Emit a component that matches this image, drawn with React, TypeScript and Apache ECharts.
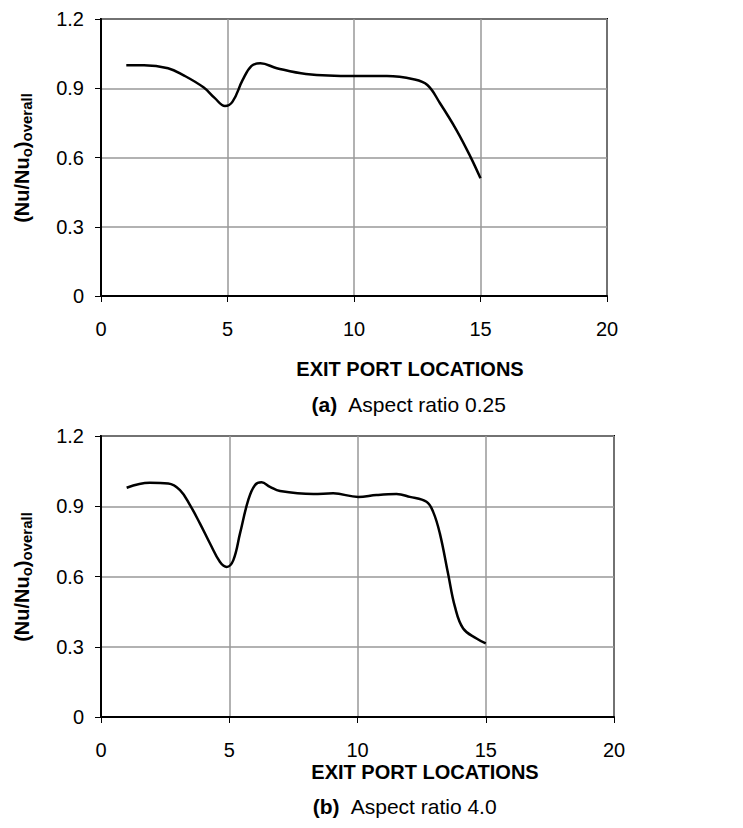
import React, { useEffect, useRef } from "react";
import * as echarts from "echarts";

// (a) Aspect ratio 0.25
const portsA = [1, 1.7, 2.65, 3.25, 4.05, 4.5, 4.9, 5.2, 5.6, 5.95, 6.3, 6.95, 8.1, 10, 11.3, 12.35, 12.9, 13.4, 14.05, 14.6, 15];
const nuA = [1.0, 1.0, 0.987, 0.957, 0.904, 0.857, 0.823, 0.842, 0.936, 0.997, 1.008, 0.987, 0.962, 0.953, 0.953, 0.939, 0.914, 0.835, 0.719, 0.604, 0.51];

// (b) Aspect ratio 4.0
const portsB = [1, 1.9, 2.62, 3.08, 3.47, 3.86, 4.25, 4.64, 4.9, 5.16, 5.42, 5.74, 6.0, 6.26, 6.59, 6.98, 8.28, 9.05, 10.03, 10.74, 11.52, 12.04, 12.69, 12.95, 13.21, 13.53, 13.8, 14.12, 14.64, 15];
const nuB = [0.979, 1.0, 0.997, 0.969, 0.905, 0.826, 0.741, 0.662, 0.641, 0.67, 0.784, 0.926, 0.99, 1.002, 0.983, 0.965, 0.952, 0.955, 0.94, 0.948, 0.952, 0.94, 0.919, 0.876, 0.784, 0.613, 0.47, 0.378, 0.335, 0.314];

const xTitle = "EXIT PORT LOCATIONS";
const captionA = ["(a)", "Aspect ratio 0.25"];
const captionB = ["(b)", "Aspect ratio 4.0"];
const yTitleParts = ["(Nu/Nu", "o", ")", "overall"];

const FONT = "Liberation Sans, Arial, sans-serif";

function xAxisCfg(gridIndex: number) {
  return {
    type: "value" as const,
    gridIndex,
    min: 0,
    max: 20,
    interval: 5,
    axisLine: { show: true, onZero: false, lineStyle: { color: "#000", width: 2 } },
    axisTick: { show: true, length: 6, lineStyle: { color: "#000", width: 1 } },
    splitLine: { show: true, lineStyle: { color: "#999", width: 1.5 } },
    axisLabel: { fontSize: 20, color: "#000", fontFamily: FONT, margin: 23 },
  };
}

function yAxisCfg(gridIndex: number) {
  return {
    type: "value" as const,
    gridIndex,
    min: 0,
    max: 1.2,
    interval: 0.3,
    axisLine: { show: true, onZero: false, lineStyle: { color: "#000", width: 2 } },
    axisTick: { show: true, length: 6, lineStyle: { color: "#000", width: 1 } },
    splitLine: { show: true, lineStyle: { color: "#999", width: 1.5 } },
    axisLabel: {
      fontSize: 20,
      color: "#000",
      fontFamily: FONT,
      margin: 17,
      formatter: (v: number) => String(Math.round(v * 10) / 10),
    },
  };
}

function yTitle(cx: number, cy: number) {
  return {
    type: "text",
    x: cx,
    y: cy,
    rotation: Math.PI / 2,
    style: {
      text: `{m|${yTitleParts[0]}}{s|${yTitleParts[1]}}{m|${yTitleParts[2]}}{s|${yTitleParts[3]}}`,
      align: "center",
      verticalAlign: "middle",
      rich: {
        m: { fontSize: 20, fontWeight: "bold", fontFamily: FONT, fill: "#000", lineHeight: 24 },
        s: { fontSize: 15, fontWeight: "bold", fontFamily: FONT, fill: "#000", lineHeight: 16, verticalAlign: "bottom" },
      },
    },
  };
}

function titleText(cx: number, cy: number) {
  return {
    type: "text",
    x: cx,
    y: cy,
    style: {
      text: xTitle,
      font: `bold 20px ${FONT}`,
      fill: "#000",
      align: "center",
      verticalAlign: "middle",
    },
  };
}

function caption(cx: number, cy: number, parts: string[]) {
  return {
    type: "text",
    x: cx,
    y: cy,
    style: {
      text: `{b|${parts[0]}}{r|  ${parts[1]}}`,
      align: "center",
      verticalAlign: "middle",
      rich: {
        b: { fontSize: 21, fontWeight: "bold", fontFamily: FONT, fill: "#000" },
        r: { fontSize: 21, fontFamily: FONT, fill: "#000" },
      },
    },
  };
}

export default function App() {
  const ref = useRef<HTMLDivElement>(null);
  useEffect(() => {
    if (!ref.current) return;
    const chart = echarts.init(ref.current, undefined, { renderer: "svg" });
    chart.setOption({
      animation: false,
      backgroundColor: "#fff",
      grid: [
        { left: 101, top: 19, width: 506, height: 277, show: true, borderColor: "#000", borderWidth: 2, backgroundColor: "transparent" },
        { left: 101, top: 436, width: 513, height: 281, show: true, borderColor: "#000", borderWidth: 2, backgroundColor: "transparent" },
      ],
      xAxis: [xAxisCfg(0), xAxisCfg(1)],
      yAxis: [yAxisCfg(0), yAxisCfg(1)],
      series: [
        {
          type: "line",
          xAxisIndex: 0,
          yAxisIndex: 0,
          data: portsA.map((x, i) => [x, nuA[i]]),
          smooth: 0.4,
          symbol: "none",
          lineStyle: { color: "#000", width: 2.5 },
        },
        {
          type: "line",
          xAxisIndex: 1,
          yAxisIndex: 1,
          data: portsB.map((x, i) => [x, nuB[i]]),
          smooth: 0.4,
          symbol: "none",
          lineStyle: { color: "#000", width: 2.5 },
        },
      ],
      graphic: [
        yTitle(22, 158),
        yTitle(22, 577),
        titleText(410, 369),
        titleText(425, 772),
        caption(409, 404, captionA),
        caption(405, 806, captionB),
      ],
    });
    return () => chart.dispose();
  }, []);
  return (
    <div
      ref={ref}
      style={{ position: "absolute", left: 0, top: 0, width: 743, height: 828, background: "#fff" }}
    />
  );
}
